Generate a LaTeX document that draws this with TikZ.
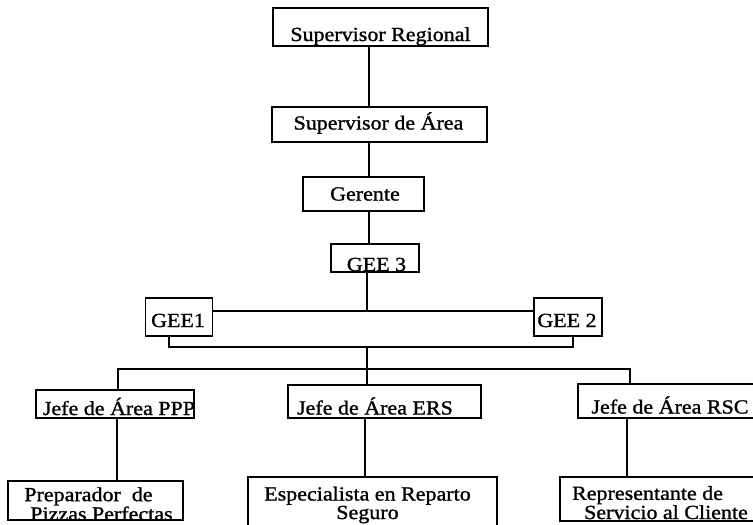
\documentclass[tikz,border=0pt]{standalone}
\usepackage{fontspec}
\setmainfont{Liberation Serif}[FakeStretch=1.1,FakeBold=1.2]
\usetikzlibrary{positioning,calc}

% text of a box, moved by (#1,#2) from the centre, #2 downwards to the baseline
\newcommand{\boxlabel}[3]{\makebox[0pt]{\kern#1\kern#1\raisebox{-#2}[0pt][0pt]{#3}}}

\tikzset{
  puesto/.style={draw, line width=1.7pt, inner sep=0pt, font=\fontsize{20}{17.5}\selectfont},
  enlace/.style={line width=1.7pt},
}

\begin{document}
\begin{tikzpicture}[x=1pt, y=-1pt]
    \useasboundingbox (0,0) rectangle (753,525);
    \clip (0,0) rectangle (753,525);

    % top of the chart
    \node[puesto, minimum width=215, minimum height=38] (sreg)  at (380.5,27)  {\boxlabel{0pt}{14pt}{Supervisor Regional}};
    \node[puesto, minimum width=215, minimum height=35] (sarea) at (379.5,124.5) {\boxlabel{-1pt}{5pt}{Supervisor de Área}};
    \node[puesto, minimum width=121, minimum height=34] (ger)   at (363.5,194) {\boxlabel{1.5pt}{6.5pt}{Gerente}};
    \node[puesto, minimum width=88,  minimum height=28] (gee3)  at (375,258)   {\boxlabel{1.5pt}{13pt}{GEE 3}};
    \node[puesto, minimum width=67,  minimum height=38] (gee1)  at (179,317)   {\boxlabel{-1pt}{10pt}{GEE1}};
    \node[puesto, minimum width=68,  minimum height=38] (gee2)  at (568,317)   {\boxlabel{-1pt}{10pt}{GEE 2}};

    % jefes de area
    \node[puesto, minimum width=158, minimum height=28] (jppp) at (115,404)   {\boxlabel{4pt}{11pt}{Jefe de Área PPP}};
    \node[puesto, minimum width=193, minimum height=33] (jers) at (384.5,401.5) {\boxlabel{-9.5pt}{13pt}{Jefe de Área ERS}};
    \node[puesto, minimum width=192, minimum height=34] (jrsc) at (674,401)   {\boxlabel{-4pt}{12.5pt}{Jefe de Área RSC}};

    % puestos de la base
    \node[puesto, minimum width=175, minimum height=39] (prep) at (95.5,500.5) {\boxlabel{3pt}{20pt}{\begin{tabular}[b]{@{}l@{}}Preparador\ \ de\\\hspace*{6pt}Pizzas Perfectas\end{tabular}}};
    \node[puesto, minimum width=249, minimum height=63] (esp)  at (372.5,508.5) {\boxlabel{-5pt}{10.5pt}{\begin{tabular}[b]{@{}c@{}}Especialista en Reparto\\Seguro\end{tabular}}};
    \node[puesto, minimum width=210, minimum height=44] (repr) at (665,499)   {\boxlabel{-5pt}{20pt}{\begin{tabular}[b]{@{}l@{}}Representante de\\\hspace*{12pt}Servicio al Cliente\end{tabular}}};

    % points of the trunk and the bars
    \coordinate (trunk) at (369,0);
    \coordinate (bus1) at (367,311);
    \coordinate (bus2) at (367,347);
    \coordinate (bus3) at (367,369);
    \coordinate (dl) at (118,369);
    \coordinate (dr) at (630,369);

    \draw[enlace] (sreg.south -| trunk) -- (sarea.north -| trunk);   % regional -> area
    \draw[enlace] (sarea.south -| trunk) -- (ger.north -| trunk);    % area -> gerente
    \draw[enlace] (ger.south -| trunk) -- (gee3.north -| trunk);     % gerente -> GEE 3
    \draw[enlace] (gee3.south -| bus1) -- (bus1);
    \draw[enlace] (gee1.east |- bus1) -- (gee2.west |- bus1);        % GEE1 -- GEE 2
    \draw[enlace] ([xshift=-10pt]gee1.south) |- (bus2) -| ([xshift=5pt]gee2.south);
    \draw[enlace] (bus2) -- (bus3);
    \draw[enlace] (dl |- jppp.north) -- (dl) -- (dr) -- (dr |- jrsc.north);
    \draw[enlace] (bus3) -- (bus3 |- jers.north);
    \draw[enlace] ([xshift=2pt]jppp.south) -- ([xshift=2pt]jppp.south |- prep.north);
    \draw[enlace] ([xshift=-19.5pt]jers.south) -- ([xshift=-19.5pt]jers.south |- esp.north);
    \draw[enlace] ([xshift=-47pt]jrsc.south) -- ([xshift=-47pt]jrsc.south |- repr.north);
\end{tikzpicture}
\end{document}
